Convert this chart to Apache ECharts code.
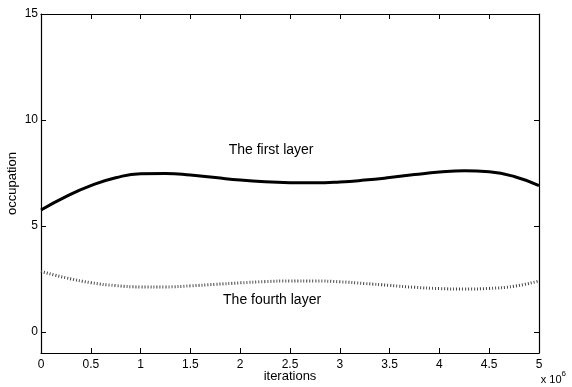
<!DOCTYPE html>
<html>
<head>
<meta charset="utf-8">
<script src="https://cdn.jsdelivr.net/npm/echarts@6/dist/echarts.min.js"></script>
<style>
  html, body { margin: 0; padding: 0; background: #fff; }
  #chart { width: 572px; height: 387px; }
</style>
</head>
<body>
<div id="chart"></div>
<script>
// iterations (x 10^6)
var iterations = [0, 0.25, 0.5, 0.75, 1, 1.25, 1.5, 1.75, 2, 2.25, 2.5, 2.75, 3, 3.25, 3.5, 3.75, 4, 4.25, 4.5, 4.75, 5];
// occupation of the first layer
var firstLayer = [5.75, 6.38, 6.9, 7.27, 7.46, 7.47, 7.4, 7.28, 7.16, 7.08, 7.04, 7.03, 7.07, 7.16, 7.28, 7.42, 7.54, 7.6, 7.55, 7.33, 6.9];
// occupation of the fourth layer
var fourthLayer = [2.85, 2.55, 2.32, 2.18, 2.12, 2.12, 2.17, 2.24, 2.31, 2.37, 2.4, 2.4, 2.36, 2.28, 2.19, 2.1, 2.04, 2.02, 2.05, 2.15, 2.4];
var yTicks = [0, 5, 10, 15];

function pairs(xs, ys) {
  var out = [];
  for (var i = 0; i < xs.length; i++) out.push([xs[i], ys[i]]);
  return out;
}

var font = 'Liberation Sans, Arial, sans-serif';
var chart = echarts.init(document.getElementById('chart'), null, { renderer: 'canvas' });

function line() {
  return { show: true, onZero: false, lineStyle: { color: '#000', width: 1.2 } };
}
function tick(vals) {
  var t = { show: true, inside: true, length: 5, lineStyle: { color: '#000', width: 1 } };
  if (vals) t.customValues = vals;
  return t;
}

var option = {
  animation: false,
  backgroundColor: '#fff',
  grid: { left: 41, right: 33, top: 14, bottom: 34, outerBoundsMode: 'none', containLabel: false },
  xAxis: [
    {
      type: 'value', min: 0, max: 5, interval: 0.5, position: 'bottom',
      name: 'iterations', nameLocation: 'middle', nameGap: 17, nameMoveOverlap: false,
      nameTextStyle: { color: '#000', fontSize: 13, fontFamily: font },
      axisLine: line(),
      axisTick: tick(),
      axisLabel: { color: '#000', fontSize: 12, fontFamily: font, margin: 6 },
      splitLine: { show: false }
    },
    {
      type: 'value', min: 0, max: 5, interval: 0.5, position: 'top',
      axisLine: line(),
      axisTick: tick(),
      axisLabel: { show: false },
      splitLine: { show: false }
    }
  ],
  yAxis: [
    {
      type: 'value', min: -1, max: 15, position: 'left',
      name: 'occupation', nameLocation: 'middle', nameGap: 22, nameMoveOverlap: false,
      nameTextStyle: { color: '#000', fontSize: 13, fontFamily: font },
      axisLine: line(),
      axisTick: tick(yTicks),
      axisLabel: { color: '#000', fontSize: 12, fontFamily: font, margin: 3, customValues: yTicks },
      splitLine: { show: false }
    },
    {
      type: 'value', min: -1, max: 15, position: 'right',
      axisLine: line(),
      axisTick: tick(yTicks),
      axisLabel: { show: false, customValues: yTicks },
      splitLine: { show: false }
    }
  ],
  series: [
    {
      name: 'The first layer',
      type: 'line',
      smooth: 0.5,
      symbol: 'none',
      data: pairs(iterations, firstLayer),
      lineStyle: { color: '#000', width: 3 },
      markPoint: {
        symbol: 'circle', symbolSize: 0,
        label: { show: true, position: 'inside', formatter: 'The first layer', color: '#000', fontSize: 14, fontFamily: font },
        data: [{ coord: [2.31, 8.58] }]
      }
    },
    {
      name: 'The fourth layer',
      type: 'line',
      smooth: 0.5,
      symbol: 'none',
      data: pairs(iterations, fourthLayer),
      lineStyle: { color: '#444', width: 3, type: [1, 2] },
      markPoint: {
        symbol: 'circle', symbolSize: 0,
        label: { show: true, position: 'inside', formatter: 'The fourth layer', color: '#000', fontSize: 14, fontFamily: font },
        data: [{ coord: [2.32, 1.51] }]
      }
    }
  ],
  graphic: [
    {
      type: 'text', right: 6, bottom: 2,
      style: {
        text: '{b|x 10}{s|6}',
        rich: {
          b: { fontSize: 11, fontFamily: font, fill: '#000', verticalAlign: 'bottom' },
          s: { fontSize: 8, fontFamily: font, fill: '#000', verticalAlign: 'top', padding: [0, 0, 7, 0] }
        }
      }
    }
  ]
};
chart.setOption(option);
</script>
</body>
</html>
